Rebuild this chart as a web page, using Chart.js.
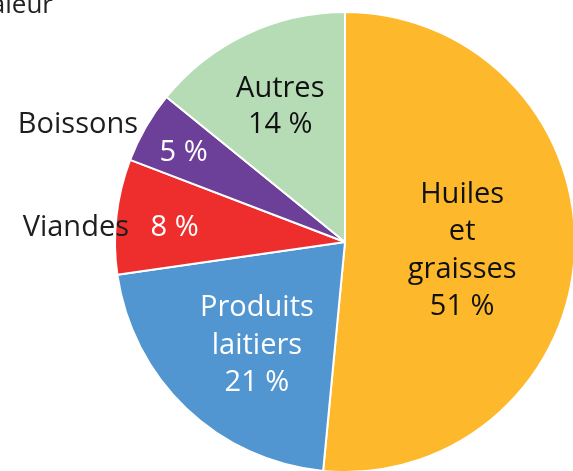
<!DOCTYPE html>
<html>
<head>
<meta charset="utf-8">
<script src="https://cdn.jsdelivr.net/npm/chart.js@4"></script>
<style>
  html, body { margin: 0; padding: 0; background: #fff; overflow: hidden; width: 573px; height: 471px; }
  #wrap { position: absolute; left: 0; top: 0; }
  #note { position: absolute; right: 520px; top: -10px; font: 26px/26px "Open Sans", sans-serif; color: #222; white-space: nowrap; }
</style>
</head>
<body>
<div id="wrap"><canvas id="pieChart" width="690" height="484"></canvas></div>
<div id="note">En valeur</div>
<script>
var categories = ['Huiles et graisses', 'Produits laitiers', 'Viandes', 'Boissons', 'Autres'];
var values = [51, 21, 8, 5, 14];
var pctLabels = ['51 %', '21 %', '8 %', '5 %', '14 %'];
var colors = ['#FDB92B', '#5195D1', '#EE2E2C', '#6C3F99', '#B6DCB6'];

// how each label is laid out: lines inside the slice, name outside for small slices
var labelLayout = [
    { lines: ['Huiles', 'et', 'graisses', pctLabels[0]], r: 0.51, color: '#111', dx: 0, dy: 3 },
    { lines: ['Produits', 'laitiers', pctLabels[1]], r: 0.58, color: '#fff', dx: 4, dy: 7 },
    { lines: [pctLabels[2]], r: 0.75, color: '#fff', dx: 1, dy: 5, outside: 'Viandes', ox: -216, oy: -14 },
    { lines: [pctLabels[3]], r: 0.81, color: '#fff', dx: 0, dy: 4, outside: 'Boissons', ox: -207, oy: -117 },
    { lines: ['Autres', pctLabels[4]], r: 0.665, color: '#111', dx: 1, dy: 3, lh: 35.5 }
];

var sliceLabels = {
    id: 'sliceLabels',
    afterDatasetsDraw: function(chart) {
        var ctx = chart.ctx;
        var arcs = chart.getDatasetMeta(0).data;
        ctx.save();
        ctx.font = '29px "Open Sans", sans-serif';
        ctx.textBaseline = 'middle';
        arcs.forEach(function(arc, i) {
            var l = labelLayout[i];
            var mid = (arc.startAngle + arc.endAngle) / 2;
            var rr = arc.outerRadius * l.r;
            var x = arc.x + Math.cos(mid) * rr + l.dx;
            var y = arc.y + Math.sin(mid) * rr + l.dy;
            var lh = l.lh || 37.5;
            ctx.fillStyle = l.color;
            ctx.textAlign = 'center';
            l.lines.forEach(function(t, k) {
                ctx.fillText(t, x, y + (k - (l.lines.length - 1) / 2) * lh);
            });
            if (l.outside) {
                ctx.fillStyle = '#1e1e1e';
                ctx.textAlign = 'right';
                ctx.fillText(l.outside, arc.x + l.ox, arc.y + l.oy);
            }
        });
        ctx.restore();
    }
};

var ctx = document.getElementById('pieChart').getContext('2d');
var myChart = new Chart(ctx, {
    type: 'pie',
    data: {
        labels: categories,
        datasets: [{
            data: values,
            backgroundColor: colors,
            borderColor: '#FFFFFF',
            borderWidth: 2
        }]
    },
    options: {
        responsive: false,
        animation: false,
        radius: 230,
        layout: { padding: 0 },
        plugins: {
            legend: { display: false },
            tooltip: { enabled: false }
        }
    },
    plugins: [sliceLabels]
});
</script>
</body>
</html>
